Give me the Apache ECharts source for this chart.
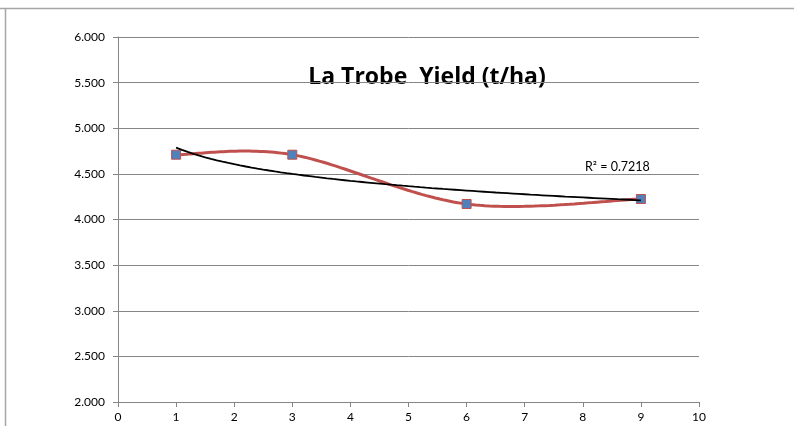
<!DOCTYPE html>
<html><head><meta charset="utf-8">
<script src="https://cdn.jsdelivr.net/npm/echarts@6/dist/echarts.min.js"></script>
<style>html,body{margin:0;padding:0;background:#fff}#c{width:794px;height:426px}</style>
</head><body><div id="c"></div>
<script>
const titleText = 'La Trobe  Yield (t/ha)';
const xValues = [1, 3, 6, 9];
const yieldValues = [4.710, 4.710, 4.170, 4.225];
const rSquaredText = 'R² = 0.7218';
const xTicks = [0, 1, 2, 3, 4, 5, 6, 7, 8, 9, 10];
const yTicks = [2.0, 2.5, 3.0, 3.5, 4.0, 4.5, 5.0, 5.5, 6.0];

const pts = xValues.map((x, i) => [x, yieldValues[i]]);
const n = pts.length;

// logarithmic least-squares trendline computed from the data
const lx = xValues.map(Math.log);
const mx = lx.reduce((a, b) => a + b, 0) / n;
const my = yieldValues.reduce((a, b) => a + b, 0) / n;
let sxy = 0, sxx = 0;
for (let i = 0; i < n; i++) { sxy += (lx[i] - mx) * (yieldValues[i] - my); sxx += (lx[i] - mx) ** 2; }
const b = sxy / sxx, a = my - b * mx;
const trend = [];
for (let k = 0; k <= 80; k++) { const x = xValues[0] + (xValues[n - 1] - xValues[0]) * k / 80; trend.push([x, a + b * Math.log(x)]); }

// spreadsheet-style smoothed curve (Catmull-Rom Bezier) through the data points
const smoothCurve = [];
for (let i = 0; i < n - 1; i++) {
  const p0 = pts[Math.max(i - 1, 0)], p1 = pts[i], p2 = pts[i + 1], p3 = pts[Math.min(i + 2, n - 1)];
  const c1 = [p1[0] + (p2[0] - p0[0]) / 6, p1[1] + (p2[1] - p0[1]) / 6];
  const c2 = [p2[0] - (p3[0] - p1[0]) / 6, p2[1] - (p3[1] - p1[1]) / 6];
  for (let k = (i === 0 ? 0 : 1); k <= 40; k++) {
    const t = k / 40, u = 1 - t;
    smoothCurve.push([
      u*u*u*p1[0] + 3*u*u*t*c1[0] + 3*u*t*t*c2[0] + t*t*t*p2[0],
      u*u*u*p1[1] + 3*u*u*t*c1[1] + 3*u*t*t*c2[1] + t*t*t*p2[1]
    ]);
  }
}

const chart = echarts.init(document.getElementById('c'));
const font = 'Lato, "Liberation Sans", sans-serif';
chart.setOption({
  animation: false,
  grid: { left: 118, right: 95, top: 37, bottom: 24 },
  xAxis: {
    type: 'value', min: xTicks[0], max: xTicks[xTicks.length - 1], interval: 1,
    axisLine: { show: true, lineStyle: { color: '#868686', width: 1 } },
    axisTick: { show: true, length: 5, lineStyle: { color: '#868686' } },
    axisLabel: { color: '#000', fontFamily: font, fontSize: 12, margin: 9 },
    splitLine: { show: false }
  },
  yAxis: {
    type: 'value', min: yTicks[0], max: yTicks[yTicks.length - 1], interval: 0.5,
    axisLine: { show: true, lineStyle: { color: '#868686', width: 1 } },
    axisTick: { show: true, length: 5, lineStyle: { color: '#868686' } },
    axisLabel: { color: '#000', fontFamily: font, fontSize: 12, margin: 13, formatter: v => v.toFixed(3) },
    splitLine: { show: true, lineStyle: { color: '#868686', width: 1 } }
  },
  series: [
    {
      type: 'line', data: smoothCurve, smooth: false, showSymbol: false, symbol: 'none',
      lineStyle: { color: '#C0504D', width: 3 }, z: 2
    },
    {
      type: 'scatter', data: pts, symbol: 'rect', symbolSize: 9,
      itemStyle: { color: '#4F81BD', borderColor: '#C0504D', borderWidth: 1, opacity: 1 },
      z: 3
    },
    {
      type: 'line', data: trend, smooth: false, showSymbol: false, symbol: 'none',
      lineStyle: { color: '#000', width: 1.8 }, z: 4
    }
  ],
  graphic: [
    { type: 'line', shape: { x1: 0, y1: 8.5, x2: 794, y2: 8.5 }, style: { stroke: '#a6a6a6', lineWidth: 1.5 } },
    { type: 'line', shape: { x1: 5.5, y1: 8, x2: 5.5, y2: 426 }, style: { stroke: '#a6a6a6', lineWidth: 1.5 } },
    { type: 'text', style: { text: titleText, x: 427, y: 77, align: 'center', verticalAlign: 'middle', font: 'bold 23px "Open Sans", Lato, sans-serif', fill: '#000' } },
    { type: 'text', style: { text: rSquaredText, x: 585, y: 167, align: 'left', verticalAlign: 'middle', font: '12.5px ' + font, fill: '#000' } }
  ]
});
</script></body></html>
